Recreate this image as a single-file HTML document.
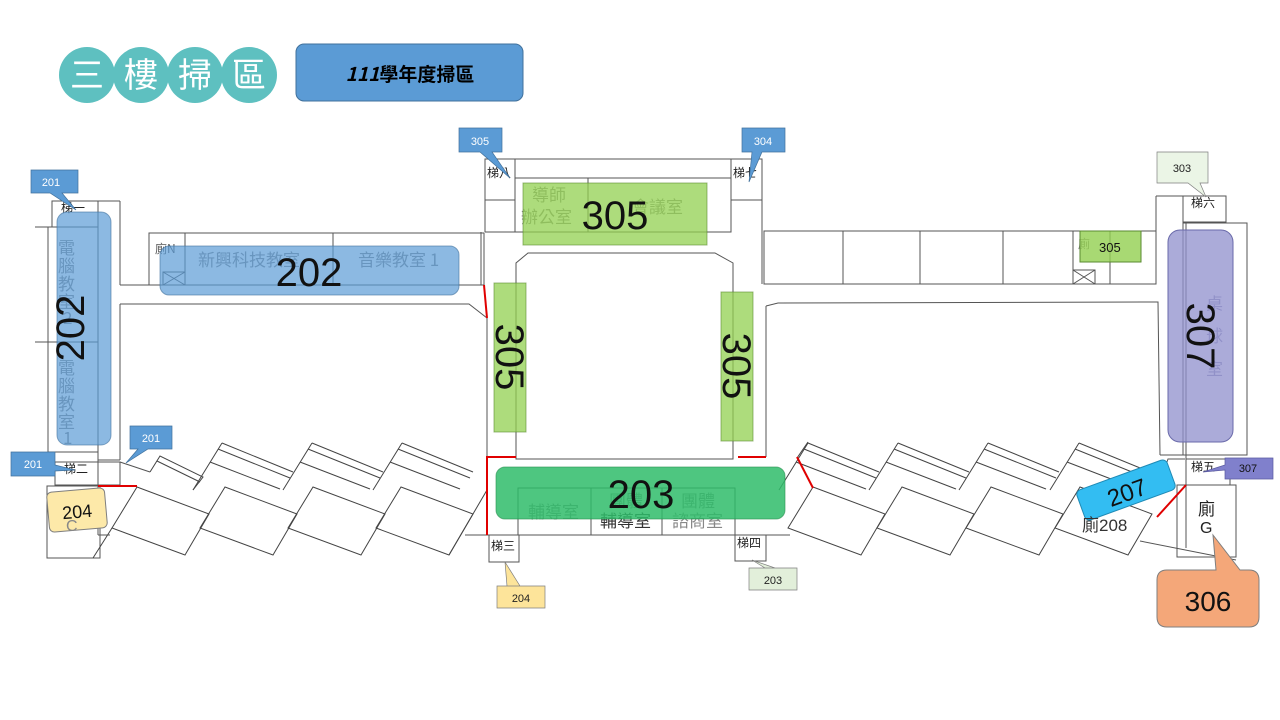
<!DOCTYPE html>
<html><head><meta charset="utf-8"><style>
html,body{margin:0;padding:0;background:#fff;}
svg{display:block;font-family:"Liberation Sans","Noto Sans CJK TC",sans-serif;}
</style></head><body>
<svg width="1280" height="720" viewBox="0 0 1280 720" xmlns="http://www.w3.org/2000/svg">
<!-- Title -->
<g fill="#5ec0c0">
<circle cx="87" cy="75" r="28"/><circle cx="141" cy="75" r="28"/><circle cx="195" cy="75" r="28"/><circle cx="249" cy="75" r="28"/>
</g>
<g fill="#fff" font-size="34" text-anchor="middle" font-family="'Noto Sans CJK TC',sans-serif">
<text x="87" y="87">三</text><text x="141" y="87">樓</text><text x="195" y="87">掃</text><text x="249" y="87">區</text>
</g>
<rect x="296" y="44" width="227" height="57" rx="8" fill="#5b9bd5" stroke="#41719c"/>
<text x="410" y="81" font-size="19" font-weight="bold" text-anchor="middle" font-family="'Noto Sans CJK TC',sans-serif"><tspan font-style="italic">111</tspan>學年度掃區</text>

<g fill="none" stroke="#555" stroke-width="1">
<!-- left wing -->
<rect x="52" y="201" width="46" height="26"/>
<line x1="98" y1="201" x2="120" y2="201"/>
<line x1="120" y1="201" x2="120" y2="285"/>
<line x1="120" y1="304" x2="120" y2="460"/>
<line x1="98" y1="201" x2="98" y2="535"/>
<line x1="35" y1="227" x2="98" y2="227"/>
<line x1="48" y1="227" x2="48" y2="452"/>
<line x1="35" y1="342" x2="98" y2="342"/>
<line x1="48" y1="452" x2="98" y2="452"/>
<line x1="98" y1="460" x2="120" y2="460"/>
<rect x="55" y="462" width="65" height="23"/>
<line x1="120" y1="462" x2="150" y2="472"/>
<rect x="47" y="486" width="53" height="72"/>
<line x1="98" y1="535" x2="110" y2="535"/>
<!-- left corridor/rooms -->
<line x1="120" y1="285" x2="481" y2="285"/>
<polyline points="120,304 469,304 487,318"/>
<rect x="149" y="233" width="335" height="52"/>
<line x1="185" y1="233" x2="185" y2="285"/>
<line x1="333" y1="233" x2="333" y2="285"/>
<rect x="163" y="272" width="22" height="13"/>
<line x1="163" y1="272" x2="185" y2="285"/><line x1="185" y1="272" x2="163" y2="285"/>
<!-- center -->
<line x1="485" y1="159" x2="762" y2="159"/>
<rect x="485" y="159" width="30" height="41"/>
<rect x="731" y="159" width="31" height="41"/>
<line x1="515" y1="178" x2="731" y2="178"/>
<rect x="515" y="178" width="216" height="54"/>
<line x1="588" y1="178" x2="588" y2="232"/>
<line x1="485" y1="200" x2="485" y2="232"/>
<line x1="485" y1="232" x2="515" y2="232"/>
<line x1="481" y1="232" x2="481" y2="285"/>
<line x1="762" y1="200" x2="762" y2="284"/>
<polygon points="528,253 715,253 733,263 733,459 516,459 516,263"/>
<line x1="487" y1="318" x2="487" y2="457"/>
<line x1="766" y1="306" x2="766" y2="457"/>
<polyline points="766,306 778,303 1158,302 1160,455"/>
<rect x="518" y="488" width="217" height="47"/>
<line x1="591" y1="488" x2="591" y2="535"/>
<line x1="662" y1="488" x2="662" y2="535"/>
<line x1="465" y1="535" x2="790" y2="535"/>
<rect x="489" y="535" width="30" height="27"/>
<rect x="735" y="535" width="31" height="26"/>
<!-- right strip -->
<line x1="764" y1="231" x2="764" y2="284"/>
<rect x="764" y="231" width="392" height="53"/>
<line x1="843" y1="231" x2="843" y2="284"/>
<line x1="920" y1="231" x2="920" y2="284"/>
<line x1="1003" y1="231" x2="1003" y2="284"/>
<line x1="1073" y1="231" x2="1073" y2="284"/>
<line x1="1110" y1="231" x2="1110" y2="284"/>
<rect x="1073" y="270" width="22" height="14"/>
<line x1="1073" y1="270" x2="1095" y2="284"/><line x1="1095" y1="270" x2="1073" y2="284"/>
<!-- right wing -->
<line x1="1156" y1="196" x2="1156" y2="284"/>
<line x1="1156" y1="196" x2="1226" y2="196"/>
<rect x="1183" y="196" width="43" height="26"/>
<rect x="1183" y="223" width="64" height="232"/>
<line x1="1160" y1="455" x2="1183" y2="455"/>
<line x1="1186" y1="223" x2="1186" y2="548"/>
<polyline points="1158,488 1168,459 1185,459"/>
<rect x="1186" y="459" width="44" height="26"/>
<rect x="1177" y="485" width="59" height="72"/>
<line x1="1140" y1="541" x2="1236" y2="560"/>
</g>

<!-- zigzag classrooms -->
<defs>
<g id="up" fill="none" stroke="#444" stroke-width="1">
<line x1="193" y1="490" x2="222" y2="443"/>
<line x1="222" y1="443" x2="293" y2="472"/>
<line x1="218" y1="449" x2="290" y2="478"/>
<line x1="210" y1="462" x2="280" y2="489"/>
</g>
<g id="lo" fill="none" stroke="#444" stroke-width="1">
<polygon points="137,487 209,514 185,555 112,528"/>
</g>
</defs>
<g fill="none" stroke="#444" stroke-width="1">
<polyline points="150,472 160,456 203,477 193,490"/>
<line x1="157" y1="461" x2="200" y2="482"/>
<line x1="93" y1="558" x2="112" y2="528"/>
<line x1="449" y1="555" x2="487" y2="490"/>
</g>
<use href="#up"/><use href="#up" x="90"/><use href="#up" x="180"/>
<use href="#lo"/><use href="#lo" x="88"/><use href="#lo" x="176"/><use href="#lo" x="264"/>
<use href="#up" x="586"/><use href="#up" x="676"/><use href="#up" x="766"/><use href="#up" x="857"/>
<g fill="none" stroke="#444"><line x1="797" y1="458" x2="808" y2="442"/></g>
<use href="#lo" x="676"/><use href="#lo" x="765"/><use href="#lo" x="854"/><use href="#lo" x="943"/>

<!-- red lines -->
<g stroke="#e00000" stroke-width="2" fill="none">
<line x1="98" y1="486" x2="137" y2="486"/>
<line x1="484" y1="285" x2="487" y2="318"/>
<polyline points="516,457 487,457 487,535"/>
<line x1="738" y1="457" x2="766" y2="457"/>
<polyline points="797,457 813,488"/>
<line x1="1186" y1="485" x2="1157" y2="517"/>
</g>

<!-- room labels -->
<g fill="#888" font-size="17" font-family="'Noto Sans CJK TC',sans-serif">
<text x="198" y="266">新興科技教室</text>
<text x="358" y="266">音樂教室 1</text>
<text x="532" y="201">導師</text>
<text x="521" y="223">辦公室</text>
<text x="632" y="213">會議室</text>
<text x="528" y="518">輔導室</text>
<text x="681" y="507">團體</text>
<text x="672" y="527">諮商室</text>
<text x="609" y="507">團體</text>
<text x="600" y="527" fill="#333">輔導室</text>
<text x="58" y="254">電</text><text x="58" y="272">腦</text><text x="58" y="290">教</text><text x="58" y="308">室</text><text x="63" y="324">2</text>
<text x="58" y="374">電</text><text x="58" y="392">腦</text><text x="58" y="410">教</text><text x="58" y="428">室</text><text x="63" y="444">1</text>
<text x="1206" y="310" fill="#9999bb">桌</text><text x="1206" y="342" fill="#9999bb">球</text><text x="1206" y="375" fill="#9999bb">室</text>
</g>
<g fill="#222" font-size="12" font-family="'Noto Sans CJK TC',sans-serif">
<text x="487" y="177">梯八</text><text x="733" y="177">梯七</text>
<text x="61" y="212">梯一</text><text x="64" y="473">梯二</text>
<text x="491" y="550">梯三</text><text x="737" y="547">梯四</text>
<text x="1191" y="207">梯六</text><text x="1191" y="471">梯五</text>
<text x="155" y="253" fill="#555">廁N</text><text x="1078" y="248" fill="#777">廁</text>
</g>

<!-- overlays -->
<rect x="57" y="212" width="54" height="233" rx="10" fill="#5b9bd5" fill-opacity="0.7" stroke="#41719c" stroke-opacity="0.6"/>
<rect x="160" y="246" width="299" height="49" rx="9" fill="#5b9bd5" fill-opacity="0.7" stroke="#41719c" stroke-opacity="0.6"/>
<rect x="523" y="183" width="184" height="62" fill="#92d050" fill-opacity="0.75" stroke="#5a8a30" stroke-opacity="0.6"/>
<rect x="494" y="283" width="32" height="149" fill="#92d050" fill-opacity="0.75" stroke="#5a8a30" stroke-opacity="0.6"/>
<rect x="721" y="292" width="32" height="149" fill="#92d050" fill-opacity="0.75" stroke="#5a8a30" stroke-opacity="0.6"/>
<rect x="496" y="467" width="289" height="52" rx="9" fill="#2fbc6a" fill-opacity="0.85" stroke="#2a9050" stroke-opacity="0.6"/>
<rect x="1080" y="231" width="61" height="31" fill="#92d050" fill-opacity="0.8" stroke="#5a8a30"/>
<rect x="1168" y="230" width="65" height="212" rx="12" fill="#8f8fcc" fill-opacity="0.75" stroke="#6a6aaa"/>
<g transform="translate(1126,490) rotate(-20)"><rect x="-48" y="-16" width="96" height="32" rx="5" fill="#33bdf2" stroke="#1f8ab5"/>
<text x="0" y="11" font-size="24" text-anchor="middle" fill="#111">207</text></g>
<g transform="translate(77,510) rotate(-5)"><rect x="-29" y="-20" width="58" height="40" rx="5" fill="#fde9a9" stroke="#7f7f7f"/>
<text x="0" y="8" font-size="18" text-anchor="middle" fill="#111">204</text></g>
<text x="66" y="531" font-size="16" fill="#888">C</text>
<text x="1082" y="531" font-size="17" fill="#333">廁208</text>
<text x="1198" y="515" font-size="17" fill="#222" font-family="'Noto Sans CJK TC',sans-serif">廁</text>
<text x="1200" y="533" font-size="16" fill="#222">G</text>

<g fill="#111" font-size="40" text-anchor="middle">
<text x="615" y="229">305</text>
<text x="309" y="286">202</text>
<text x="641" y="508">203</text>
<text transform="translate(84,328) rotate(-90)">202</text>
<text transform="translate(496,357) rotate(90)">305</text>
<text transform="translate(723,366) rotate(90)">305</text>
<text transform="translate(1187,336) rotate(90)">307</text>
</g>
<text x="1099" y="252" font-size="13" fill="#111">305</text>

<!-- callouts -->
<g font-size="11" text-anchor="middle">
<polygon points="31,170 78,193 78,193" fill="#5b9bd5"/>
<path d="M31,170 H78 V193 H62 L76,210 L50,193 H31 Z" fill="#5b9bd5" stroke="#41719c" stroke-width="0.7"/><text x="51" y="186" fill="#fff">201</text>
<path d="M130,426 H172 V449 H148 L126,463 L138,449 H130 Z" fill="#5b9bd5" stroke="#41719c" stroke-width="0.7"/><text x="151" y="442" fill="#fff">201</text>
<path d="M11,452 H55 V465 L75,470 L55,471 V476 H11 Z" fill="#5b9bd5" stroke="#41719c" stroke-width="0.7"/><text x="33" y="468" fill="#fff">201</text>
<path d="M459,128 H502 V152 H492 L510,178 L480,152 H459 Z" fill="#5b9bd5" stroke="#41719c" stroke-width="0.7"/><text x="480" y="145" fill="#fff">305</text>
<path d="M742,128 H785 V152 H762 L749,182 L752,152 H742 Z" fill="#5b9bd5" stroke="#41719c" stroke-width="0.7"/><text x="763" y="145" fill="#fff">304</text>
<path d="M1157,152 H1208 V183 H1200 L1206,197 L1188,183 H1157 Z" fill="#ebf5e6" stroke="#7f7f7f" stroke-width="0.7"/><text x="1182" y="172" fill="#222">303</text>
<path d="M1225,458 H1273 V479 H1225 V470 L1203,472 L1225,465 Z" fill="#8080cc" stroke="#5a5aa0" stroke-width="0.7"/><text x="1248" y="472" fill="#111">307</text>
<path d="M497,586 H545 V608 H497 Z M507,586 L505,562 L520,586 Z" fill="#fde49a" stroke="#7f7f7f" stroke-width="0.7"/><text x="521" y="602" fill="#222">204</text>
<path d="M749,568 H797 V590 H749 Z M765,568 L752,560 L775,568 Z" fill="#e2efda" stroke="#7f7f7f" stroke-width="0.7"/><text x="773" y="584" fill="#222">203</text>
</g>
<path d="M1167,570 H1216 L1213,535 L1240,570 H1249 Q1259,570 1259,580 V617 Q1259,627 1249,627 H1167 Q1157,627 1157,617 V580 Q1157,570 1167,570 Z" fill="#f4a779" stroke="#7f7f7f"/>
<text x="1208" y="611" font-size="28" text-anchor="middle" fill="#111">306</text>
</svg>
</body></html>
